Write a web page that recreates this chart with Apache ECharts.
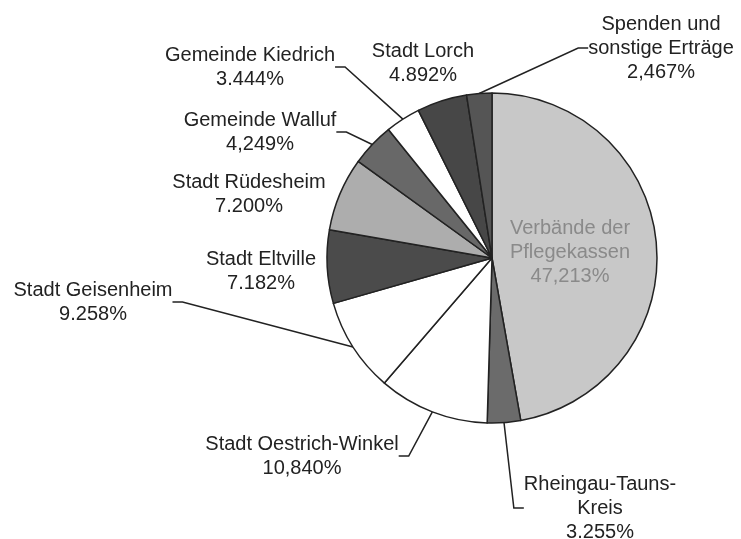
<!DOCTYPE html>
<html>
<head>
<meta charset="utf-8">
<script src="https://cdn.jsdelivr.net/npm/echarts@6/dist/echarts.min.js"></script>
<style>
  html, body { margin: 0; padding: 0; background: #fff; }
  #chart { width: 741px; height: 539px; }
</style>
</head>
<body>
<div id="chart"></div>
<script>
// Anteile in Prozent, im Uhrzeigersinn ab 12 Uhr
const names = [
  'Verbände der\nPflegekassen',
  'Rheingau-Tauns-\nKreis',
  'Stadt Oestrich-Winkel',
  'Stadt Geisenheim',
  'Stadt Eltville',
  'Stadt Rüdesheim',
  'Gemeinde Walluf',
  'Gemeinde Kiedrich',
  'Stadt Lorch',
  'Spenden und\nsonstige Erträge'
]
const values = [47.213, 3.255, 10.840, 9.258, 7.182, 7.200, 4.249, 3.444, 4.892, 2.467]
// Beschriftung so wie im Original gedruckt
const valueLabels = ['47,213%', '3.255%', '10,840%', '9.258%', '7.182%', '7.200%', '4,249%', '3.444%', '4.892%', '2,467%']

const colors = ['#c8c8c8', '#6b6b6b', '#ffffff', '#ffffff', '#4b4b4b', '#adadad', '#686868', '#ffffff', '#474747', '#555555']
// Textpositionen (Mitte des Textblocks)
const labelPos = [
  [570, 252], [600, 508], [302, 456], [93, 302], [261, 271],
  [249, 194], [260, 132], [250, 67], [423, 63], [661, 48]
]
const withLine = [false, true, true, true, false, false, true, true, false, true]

const chart = echarts.init(document.getElementById('chart'), null, { renderer: 'canvas' })

const data = values.map(function (v, i) {
  return {
    name: names[i],
    value: v,
    itemStyle: { color: colors[i] },
    label: i === 0 ? { color: '#8a8a8a' } : {},
    labelLine: { show: withLine[i] }
  }
})

const option = {
  animation: false,
  backgroundColor: '#fff',
  series: [{
    type: 'pie',
    center: [492, 258],
    radius: [0, 165],
    startAngle: 90,
    clockwise: true,
    avoidLabelOverlap: false,
    data: data,
    itemStyle: { borderColor: '#222', borderWidth: 1.5 },
    label: {
      show: true,
      fontFamily: 'Liberation Sans, Arial, sans-serif',
      fontSize: 20,
      lineHeight: 24,
      color: '#222',
      align: 'center',
      formatter: function (p) {
        return p.name + '\n' + valueLabels[p.dataIndex]
      }
    },
    labelLine: {
      show: true,
      length: 10,
      length2: 10,
      smooth: false,
      lineStyle: { color: '#222', width: 1.5 }
    },
    labelLayout: function (p) {
      const pos = labelPos[p.dataIndex]
      return { x: pos[0], y: pos[1], align: 'center', verticalAlign: 'middle' }
    }
  }]
}

chart.setOption(option)
</script>
</body>
</html>
